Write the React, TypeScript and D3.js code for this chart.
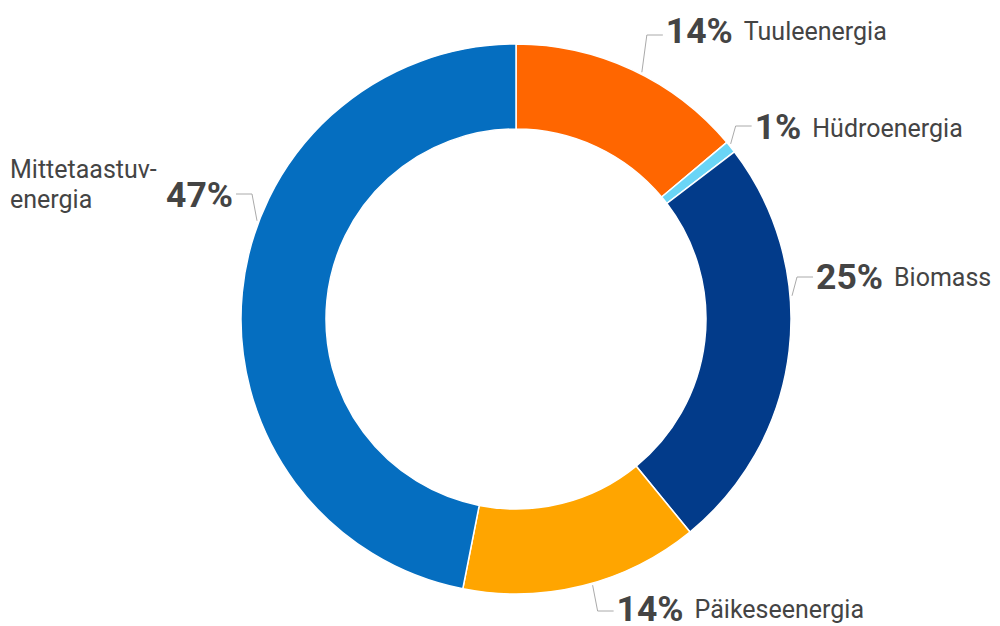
import React from "react";
import * as d3 from "d3";

const categories = ["Tuuleenergia", "Hüdroenergia", "Biomass", "Päikeseenergia", "Mittetaastuvenergia"];
const values = [13.9, 0.7, 24.5, 14.0, 46.9];
const colors = ["#FF6600", "#6AD5F6", "#023B8A", "#FFA500", "#056EC0"];
const labelLines = [["Tuuleenergia"], ["Hüdroenergia"], ["Biomass"], ["Päikeseenergia"], ["Mittetaastuv-", "energia"]];

// label layout (position within slice, line height, side)
const labelLayout = [
  { side: 1, frac: 0.54, lineY: 35, textY: 42.5 },
  { side: 1, frac: 0.3, lineY: 126, textY: 139.3 },
  { side: 1, frac: 0.37, lineY: 277, textY: 288.5 },
  { side: 1, frac: 0.46, lineY: 611, textY: 620.5 },
  { side: -1, frac: 0.59, lineY: 194, textY: 207.3 },
];

const W = 1000, H = 626;
const cx = 516, cy = 319;
const outerR = 275, innerR = 190;
const TEXT = "#444444";
const FONT = "Roboto, 'Noto Sans', sans-serif";

export default function App() {
  const data = categories.map((c, i) => ({ name: c, value: values[i], i }));
  const pie = d3.pie<any>().sort(null).value((d) => d.value).startAngle(0).endAngle(2 * Math.PI);
  const arcs = pie(data);
  const arc = d3.arc<any>().innerRadius(innerR).outerRadius(outerR);

  return (
    <svg width={W} height={H} style={{ position: "absolute", left: 0, top: 0, background: "#fff" }} fontFamily={FONT}>
      <g transform={`translate(${cx},${cy})`}>
        {arcs.map((a, i) => (
          <path key={i} d={arc(a) as string} fill={colors[i]} stroke="#fff" strokeWidth={1.5} />
        ))}
      </g>
      {arcs.map((a, i) => {
        const L = labelLayout[i];
        const ang = a.startAngle + (a.endAngle - a.startAngle) * L.frac;
        const r0 = outerR + 2;
        const sx = cx + r0 * Math.sin(ang);
        const sy = cy - r0 * Math.cos(ang);
        const ex = sx + L.side * 5;
        const hx = ex + L.side * 16;
        const tx = hx + L.side * 3;
        const pct = Math.round(a.data.value) + "%";
        const lines = labelLines[i];
        return (
          <g key={"l" + i}>
            <polyline points={`${sx},${sy} ${ex},${L.lineY} ${hx},${L.lineY}`} fill="none" stroke="#aaaaaa" strokeWidth={1} />
            {L.side > 0 ? (
              <text x={tx} y={L.textY} fill={TEXT}>
                <tspan fontWeight="bold" fontSize={35.5}>{pct}</tspan>
                <tspan dx={11} dy={-2.5} fontSize={25}>{lines[0]}</tspan>
              </text>
            ) : (
              <g>
                <text x={tx} y={L.textY} fill={TEXT} fontWeight="bold" fontSize={35.5} textAnchor="end">{pct}</text>
                {lines.map((ln, k) => (
                  <text key={k} x={10} y={L.textY - 29.5 + k * 30.6} fill={TEXT} fontSize={25}>{ln}</text>
                ))}
              </g>
            )}
          </g>
        );
      })}
    </svg>
  );
}
